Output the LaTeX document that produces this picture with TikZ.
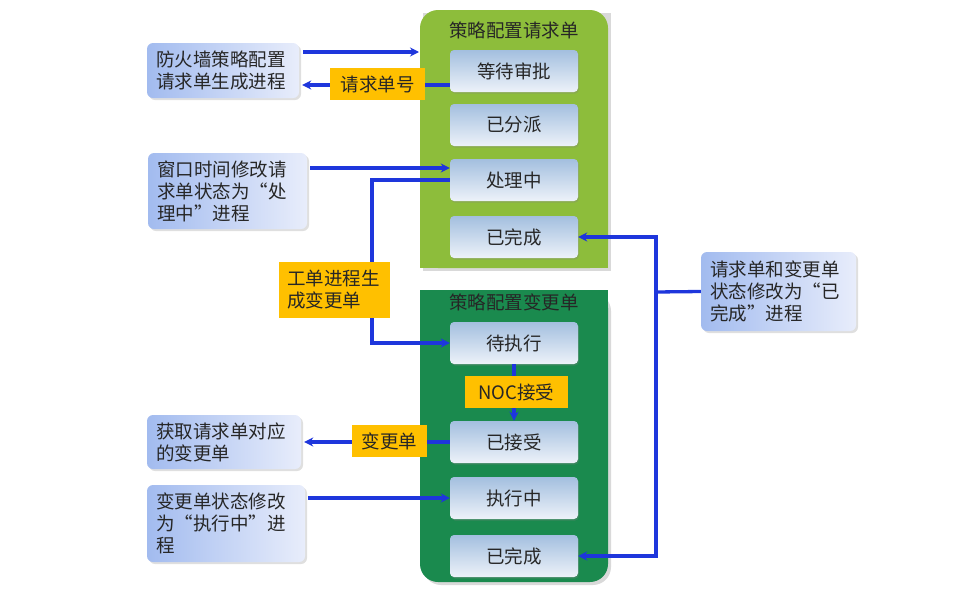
\documentclass[tikz,border=0pt]{standalone}
\usepackage{fontspec}
\setmainfont{Noto Sans CJK SC}
\usetikzlibrary{arrows.meta,shadows}
\definecolor{lgreen}{HTML}{8DBD3B}
\definecolor{dgreen}{HTML}{1A8A4E}
\definecolor{gold}{HTML}{FFC000}
\definecolor{lineblue}{HTML}{1E36DC}
\definecolor{stTop}{HTML}{A3BFDF}
\definecolor{stBot}{HTML}{EDF2F9}
\definecolor{prL}{HTML}{A2BBEF}
\definecolor{prR}{HTML}{E8EDFB}
\newcommand{\fsz}{\fontsize{18.5}{22}\selectfont}
\tikzset{
  stbox/.style={rounded corners=4pt, top color=stTop, bottom color=stBot, draw=none,
    minimum width=128pt, minimum height=42pt, inner sep=0pt, font=\fsz, text=black!85,
    drop shadow={opacity=.3,shadow xshift=1pt,shadow yshift=-1.5pt}},
  procbox/.style={rounded corners=6pt, left color=prL, right color=prR, draw=none,
    align=left, inner xsep=9pt, inner ysep=0pt, font=\fsz, text=black!85,
    drop shadow={opacity=.25,shadow xshift=2pt,shadow yshift=-2pt}},
  labbox/.style={fill=gold, inner sep=0pt, font=\fsz, text=black!85, align=left},
  ttl/.style={font=\fsz, text=black!85},
  conn/.style={draw=lineblue, line width=3.3pt},
  arr/.style={conn, -{Stealth[length=9pt,width=9pt]}},
}
\begin{document}
\begin{tikzpicture}[x=1pt,y=-1pt]
\useasboundingbox (0,0) rectangle (959,600);
% containers
\fill[black,opacity=.15] (423,13) rectangle (611,271);
\fill[lgreen, rounded corners=18pt] (420,10) rectangle (608,268);
\fill[lgreen] (420,100) rectangle (608,268);
\fill[black,opacity=.15,rounded corners=18pt] (423,293) rectangle (611,585);
\fill[dgreen, rounded corners=18pt] (420,290) rectangle (608,582);
\fill[dgreen] (420,290) rectangle (608,400);
\node[ttl] (t1) at (514,30) {策略配置请求单};
\node[ttl] (t2) at (514,302) {策略配置变更单};
% states
\node[stbox] (s1) at (514,71) {等待审批};
\node[stbox] (s2) at (514,125) {已分派};
\node[stbox] (s3) at (514,180) {处理中};
\node[stbox] (s4) at (514,237) {已完成};
\node[stbox] (c1) at (514,343) {待执行};
\node[stbox] (c2) at (514,442) {已接受};
\node[stbox] (c3) at (514,498) {执行中};
\node[stbox] (c4) at (514,556) {已完成};
% processes
\node[procbox, text width=134pt, minimum height=55pt] (p1) at (223,70.5) {防火墙策略配置\\请求单生成进程};
\node[procbox, text width=141pt, minimum height=76pt] (p2) at (227.5,191) {窗口时间修改请\\求单状态为“处\\理中”进程};
\node[procbox, text width=136pt, minimum height=54pt] (p3) at (224,442) {获取请求单对应\\的变更单};
\node[procbox, text width=140pt, minimum height=77pt] (p4) at (226,523.5) {变更单状态修改\\为“执行中”进\\程};
\node[procbox, text width=137pt, minimum height=79pt] (p5) at (778.5,291.5) {请求单和变更单\\状态修改为“已\\完成”进程};
% connectors
\coordinate (g1) at (419,52);
\draw[arr] (p1.east |- g1) ++(4,0) -- (g1);
\coordinate (a2s) at ([yshift=-14pt]s1.west);
\draw[arr, shorten >=3pt] (a2s) -- (a2s -| p1.east);
\coordinate (a3e) at ([yshift=12pt]s3.west);
\draw[arr] ([xshift=3pt]a3e -| p2.east) -- (a3e);
\coordinate (k) at (372,0);
\draw[arr] (s3.west) -- (s3.west -| k) |- (c1.west);
\coordinate (jx) at (656,292);
\draw[conn] (p5.west) -- (jx);
\draw[arr] (jx) |- (s4.east);
\draw[arr] (jx) |- (c4.east);
\draw[arr, shorten >=3pt] (c2.west) -- (c2.west -| p3.east);
\draw[arr] ([xshift=3pt]c3.west -| p4.east) -- (c3.west);
\draw[arr] (c1.south) -- (c2.north);
% labels
\node[labbox, minimum width=95pt, minimum height=32pt] (l1) at (377.5,84) {请求单号};
\node[labbox, text width=95pt, inner xsep=8pt, minimum height=56pt] (l2) at (334.5,290) {工单进程生\\成变更单};
\node[labbox, minimum width=75pt, minimum height=32pt] (l3) at (389.5,441) {变更单};
\node[labbox, minimum width=103pt, minimum height=32pt] (l4) at (516.5,392) {NOC接受};
\end{tikzpicture}
\end{document}
